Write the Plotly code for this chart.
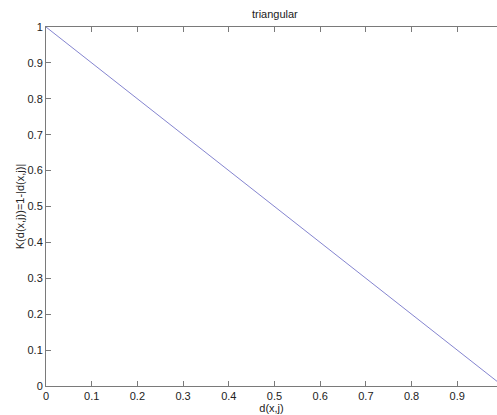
import plotly.graph_objects as go

d_vals = [0.0, 0.99]
k_vals = [1.0, 0.01]
x_ticks = [0, 0.1, 0.2, 0.3, 0.4, 0.5, 0.6, 0.7, 0.8, 0.9]
y_ticks = [0, 0.1, 0.2, 0.3, 0.4, 0.5, 0.6, 0.7, 0.8, 0.9, 1]

fig = go.Figure()
fig.add_trace(go.Scatter(x=d_vals, y=k_vals, mode="lines",
                         line=dict(color="rgb(100,100,195)", width=0.8),
                         showlegend=False, cliponaxis=True))

axis_common = dict(showgrid=False, zeroline=False, showline=True,
                   linecolor="#7a7a7a", linewidth=1, ticks="inside",
                   ticklen=5, tickcolor="#7a7a7a",
                   tickfont=dict(family="Liberation Sans, Arial", size=11, color="#222"))

fig.update_layout(
    width=497, height=415,
    margin=dict(l=46, r=0, t=27, b=29),
    paper_bgcolor="white", plot_bgcolor="white",
    title=dict(text="triangular", x=0.553, xanchor="center", y=0.965, yanchor="middle",
               font=dict(family="Liberation Sans, Arial", size=11, color="#222")),
    xaxis=dict(range=[0, 0.987], tickvals=x_ticks, mirror="ticks",
               title=dict(text="d(x,j)", standoff=2,
                          font=dict(family="Liberation Sans, Arial", size=11, color="#222")),
               **axis_common),
    yaxis=dict(range=[0, 1], tickvals=y_ticks, mirror=False,
               title=dict(text="K(d(x,j))=1-|d(x,j)|", standoff=0,
                          font=dict(family="Liberation Sans, Arial", size=11, color="#222")),
               **axis_common),
)

fig.write_html("out.html")
